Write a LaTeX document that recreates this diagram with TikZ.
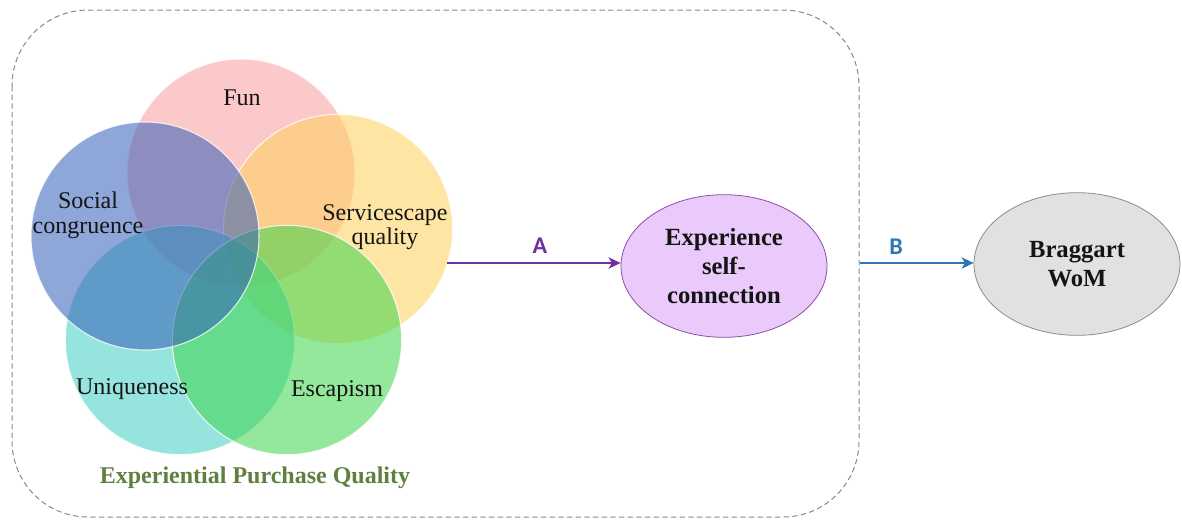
\documentclass[tikz,border=0pt]{standalone}
\usepackage{fontspec}
\setmainfont{Liberation Serif}
\newfontfamily\labfont{Carlito}
\usetikzlibrary{shapes.geometric,arrows.meta}
\definecolor{funcol}{RGB}{248,157,157}
\definecolor{servcol}{RGB}{253,208,90}
\definecolor{soccol}{RGB}{51,93,184}
\definecolor{unicol}{RGB}{64,206,195}
\definecolor{esccol}{RGB}{60,213,75}
\definecolor{boxcol}{RGB}{122,140,160}
\definecolor{epqcol}{RGB}{95,128,62}
\definecolor{acol}{RGB}{112,48,160}
\definecolor{bcol}{RGB}{46,117,182}
\definecolor{expfill}{RGB}{234,202,250}
\definecolor{expdraw}{RGB}{140,80,165}
\definecolor{bragfill}{RGB}{225,225,225}
\definecolor{bragdraw}{RGB}{140,140,140}
\definecolor{txt}{RGB}{20,20,20}
\begin{document}
\begin{tikzpicture}[x=0.75pt,y=-0.75pt,
  venn/.style={fill opacity=0.55, draw=white, draw opacity=0.8, line width=0.8pt},
  vlabel/.style={text=txt, align=center, inner sep=0pt, font=\fontsize{18}{18.5}\selectfont},
  bigell/.style={ellipse, inner sep=0pt, minimum width=154.5pt, minimum height=107pt, line width=0.6pt,
     align=center, text=txt, font=\fontsize{18.5}{22}\selectfont\bfseries},
  conn/.style={line width=1.5pt, -{Stealth[length=9pt,width=8.5pt,inset=2.5pt]}},
  arrlab/.style={font=\fontsize{18}{18}\selectfont\labfont\bfseries, inner sep=0pt}
]
\useasboundingbox (0,0) rectangle (1182,519);
% dashed frame
\draw[boxcol, dash pattern=on 4pt off 2.5pt, line width=0.75pt, rounded corners=57pt]
  (12,10) rectangle (859,517);
% venn circles
\fill[funcol, venn] (241,173) circle[radius=85.5pt];
\fill[servcol, venn] (338,229) circle[radius=86pt];
\fill[unicol, venn] (180,340) circle[radius=86pt];
\fill[esccol, venn] (287,340) circle[radius=86pt];
\fill[soccol, venn] (145,236) circle[radius=85.5pt];
% circle labels
\node[vlabel] (fun) at (242,98) {Fun};
\node[vlabel] (soc) at (88,215) {Social\\congruence};
\node[vlabel] (serv) at (385,227) {Servicescape\\quality};
\node[vlabel] (uni) at (132,389) {Uniqueness};
\node[vlabel] (esc) at (337,391) {Escapism};
\node[text=epqcol, font=\fontsize{18}{18}\selectfont\bfseries, inner sep=0pt] (epq) at (255,478) {Experiential Purchase Quality};
% outcome ellipses
\node[bigell, fill=expfill, draw=expdraw] (exp) at (724,266) {Experience\\self-\\connection};
\node[bigell, fill=bragfill, draw=bragdraw] (brag) at (1077,264) {Braggart\\WoM};
% connectors
\coordinate (astart) at (447,263);
\coordinate (bstart) at (860,263);
\draw[conn, acol] (astart) -- (astart -| exp.west);
\draw[conn, bcol] (bstart) -- (bstart -| brag.west);
\node[arrlab, text=acol] (la) at (540,246) {A};
\node[arrlab, text=bcol] (lb) at (896,247) {B};
\end{tikzpicture}
\end{document}
